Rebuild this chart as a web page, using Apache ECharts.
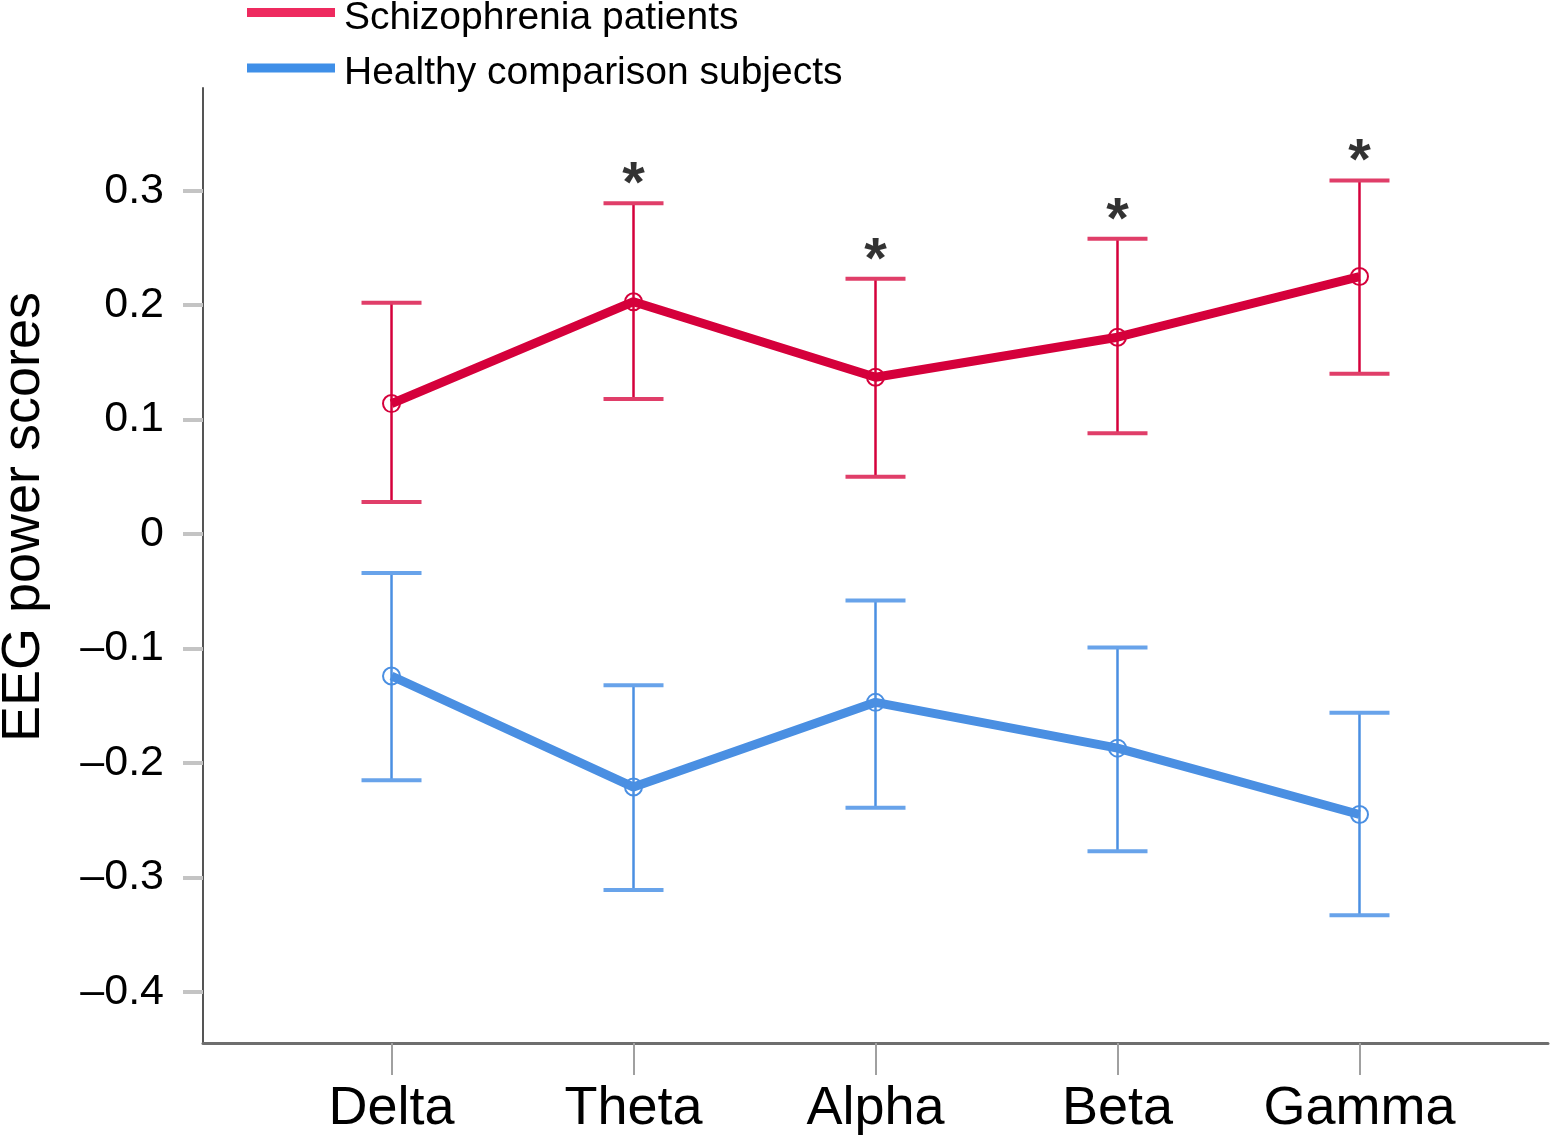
<!DOCTYPE html>
<html>
<head>
<meta charset="utf-8">
<script src="https://cdn.jsdelivr.net/npm/echarts@6/dist/echarts.min.js"></script>
<style>
html,body{margin:0;padding:0;background:#fff;}
#chart{width:1550px;height:1136px;}
</style>
</head>
<body>
<div id="chart"></div>
<script>
const categories = ['Delta', 'Theta', 'Alpha', 'Beta', 'Gamma'];
const schizoMean  = [0.114, 0.203, 0.137, 0.172, 0.225];
const schizoUpper = [0.202, 0.289, 0.223, 0.258, 0.309];
const schizoLower = [0.028, 0.118, 0.050, 0.088, 0.140];
const healthyMean  = [-0.124, -0.221, -0.147, -0.187, -0.245];
const healthyUpper = [-0.034, -0.132, -0.058, -0.099, -0.156];
const healthyLower = [-0.215, -0.311, -0.239, -0.277, -0.333];
const significant = [false, true, true, true, true];
const yTickValues = [-0.4, -0.3, -0.2, -0.1, 0, 0.1, 0.2, 0.3];
const yTickLabels = ['–0.4', '–0.3', '–0.2', '–0.1', '0', '0.1', '0.2', '0.3'];
const seriesNames = ['Schizophrenia patients', 'Healthy comparison subjects'];

const FONT = "'Liberation Sans', Arial, Helvetica, sans-serif";
const RED = '#d5003b', RED_CAP = '#e03e69', RED_LEG = '#ee2a5f';
const BLUE = '#4a8fe2', BLUE_CAP = '#68a3ea', BLUE_LEG = '#3f8fe8';

function errorSeries(name, lower, upper, color, capColor) {
  return {
    type: 'custom', name: name, z: 2,
    data: categories.map((c, i) => [i, lower[i], upper[i]]),
    encode: { x: 0, y: [1, 2] },
    renderItem: function (params, api) {
      const x = api.value(0);
      const pLo = api.coord([x, api.value(1)]);
      const pHi = api.coord([x, api.value(2)]);
      const hw = 30;
      return {
        type: 'group',
        children: [
          { type: 'line', shape: { x1: pHi[0], y1: pHi[1], x2: pLo[0], y2: pLo[1] }, style: { stroke: color, lineWidth: 2.5 } },
          { type: 'line', shape: { x1: pHi[0] - hw, y1: pHi[1], x2: pHi[0] + hw, y2: pHi[1] }, style: { stroke: capColor, lineWidth: 4 } },
          { type: 'line', shape: { x1: pLo[0] - hw, y1: pLo[1], x2: pLo[0] + hw, y2: pLo[1] }, style: { stroke: capColor, lineWidth: 4 } }
        ]
      };
    }
  };
}

function lineSeries(name, mean, color) {
  return {
    type: 'line', name: name, z: 3,
    data: categories.map((c, i) => [i, mean[i]]),
    symbol: 'circle', symbolSize: 17,
    itemStyle: { color: 'rgba(255,255,255,0)', borderColor: color, borderWidth: 2 },
    lineStyle: { color: color, width: 9 }
  };
}

const chart = echarts.init(document.getElementById('chart'), null, { renderer: 'canvas' });
chart.setOption({
  animation: false,
  backgroundColor: '#fff',
  textStyle: { fontFamily: FONT },
  grid: { left: 203, right: 2, top: 88, bottom: 93, containLabel: false },
  legend: {
    orient: 'vertical', left: 247, top: -7, padding: 0,
    icon: 'rect', itemWidth: 88, itemHeight: 9, itemGap: 11,
    formatter: name => '{s|}{t|' + name + '}',
    textStyle: {
      fontFamily: FONT, fontSize: 39, color: '#000',
      rich: {
        s: { height: 50, width: 4 },
        t: { fontFamily: FONT, fontSize: 39, color: '#000', lineHeight: 40, verticalAlign: 'bottom' }
      }
    },
    data: [
      { name: seriesNames[0], itemStyle: { color: RED_LEG, borderWidth: 0 } },
      { name: seriesNames[1], itemStyle: { color: BLUE_LEG, borderWidth: 0 } }
    ]
  },
  xAxis: {
    type: 'value', min: -0.779, max: 4.779,
    splitLine: { show: false },
    axisLine: { show: true, onZero: false, lineStyle: { color: '#6e6e6e', width: 3 } },
    axisTick: { show: true, customValues: [0, 1, 2, 3, 4], length: 32, lineStyle: { color: '#a0a0a0', width: 2 } },
    axisLabel: {
      customValues: [0, 1, 2, 3, 4],
      formatter: v => categories[Math.round(v)],
      fontFamily: FONT, fontSize: 54, color: '#000', margin: 39
    }
  },
  yAxis: {
    type: 'value', min: -0.4446, max: 0.3897,
    splitLine: { show: false },
    axisLine: { show: true, onZero: false, lineStyle: { color: '#555', width: 2 } },
    axisTick: { show: true, customValues: yTickValues, length: 20, lineStyle: { color: '#c4c4c4', width: 4 } },
    axisLabel: {
      customValues: yTickValues,
      formatter: v => { const i = yTickValues.findIndex(t => Math.abs(t - v) < 1e-6); return i >= 0 ? yTickLabels[i] : ''; },
      fontFamily: FONT, fontSize: 43, color: '#000', margin: 39
    }
  },
  graphic: [{
    type: 'text', x: 24, y: 517, rotation: Math.PI / 2,
    style: { text: 'EEG power scores', font: '54px ' + FONT, fill: '#000', align: 'center', verticalAlign: 'middle' }
  }],
  series: [
    errorSeries('err-s', schizoLower, schizoUpper, RED, RED_CAP),
    errorSeries('err-h', healthyLower, healthyUpper, BLUE, BLUE_CAP),
    lineSeries(seriesNames[0], schizoMean, RED),
    lineSeries(seriesNames[1], healthyMean, BLUE),
    {
      type: 'scatter', name: 'sig', z: 4, symbolSize: 1,
      itemStyle: { color: 'rgba(0,0,0,0)' },
      data: categories.map((c, i) => significant[i] ? [i, schizoUpper[i]] : null).filter(d => d),
      label: { show: true, position: 'inside', offset: [0, -17], formatter: '*', fontFamily: FONT, fontWeight: 'bold', fontSize: 58, color: '#000' }
    }
  ]
});
</script>
</body>
</html>
